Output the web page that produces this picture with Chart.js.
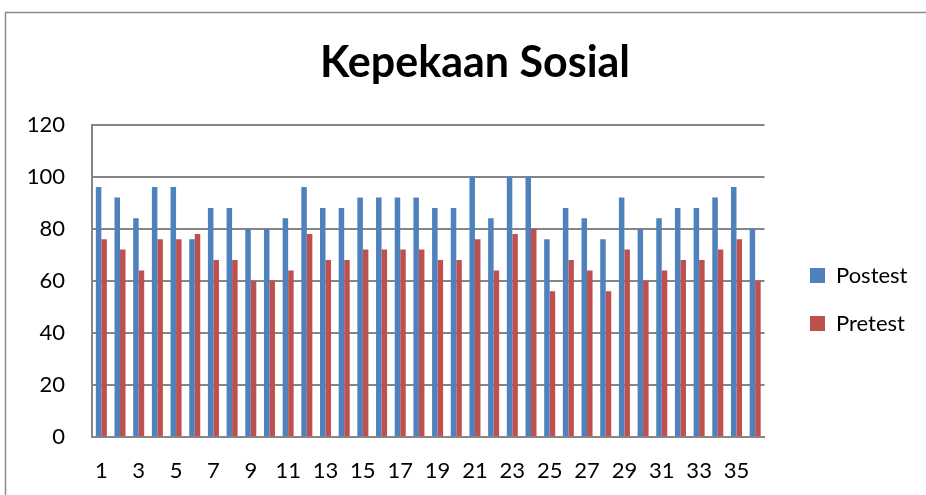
<!DOCTYPE html>
<html><head><meta charset="utf-8">
<script src="https://cdn.jsdelivr.net/npm/chart.js@4/dist/chart.umd.min.js"></script>
<style>html,body{margin:0;padding:0;background:#fff;} #wrap{width:926px;height:495px;position:relative}</style>
</head><body><div id="wrap"><canvas id="c" width="926" height="495"></canvas></div>
<script>
const categories = ['1','2','3','4','5','6','7','8','9','10','11','12','13','14','15','16','17','18',
  '19','20','21','22','23','24','25','26','27','28','29','30','31','32','33','34','35','36'];
const postest = [96,92,84,96,96,76,88,88,80,80,84,96,88,88,92,92,92,92,
  88,88,100,84,100,100,76,88,84,76,92,80,84,88,88,92,96,80];
const pretest = [76,72,64,76,76,78,68,68,60,60,64,78,68,68,72,72,72,72,
  68,68,76,64,78,80,56,68,64,56,72,60,64,68,68,72,76,60];
const yTicks = [0,20,40,60,80,100,120];
const seriesNames = ['Postest','Pretest'];
const titleText = 'Kepekaan Sosial';

Chart.defaults.font.family = 'Lato';
const GRID = '#868686';

const frame = {
  id: 'frame',
  beforeDraw(chart) {
    const ctx = chart.ctx;
    ctx.save();
    ctx.fillStyle = '#fff';
    ctx.fillRect(0, 0, chart.width, chart.height);
    ctx.strokeStyle = '#8c8c8c';
    ctx.lineWidth = 1.5;
    ctx.strokeRect(5.5, 12.5, chart.width + 10, chart.height + 10);
    ctx.restore();
  }
};
const place = {
  id: 'place',
  afterLayout(chart) {
    const lg = chart.legend;
    const dx = 784 - lg.left;
    lg.left += dx; lg.right += dx;
    lg.top = 238; lg.bottom = 361;
    const tb = chart.titleBlock;
    const tx = 475 - (tb.left + tb.right) / 2;
    tb.left += tx; tb.right += tx;
  }
};

new Chart(document.getElementById('c'), {
  type: 'bar',
  data: {
    labels: categories,
    datasets: [
      { label: seriesNames[0], data: postest, backgroundColor: '#4F81BD', borderWidth: 0,
        categoryPercentage: 0.59, barPercentage: 1 },
      { label: seriesNames[1], data: pretest, backgroundColor: '#C0504D', borderWidth: 0,
        categoryPercentage: 0.59, barPercentage: 1 }
    ]
  },
  options: {
    responsive: false,
    animation: false,
    devicePixelRatio: 1,
    layout: { padding: { top: 0, left: 0, right: 28, bottom: 0 } },
    plugins: {
      title: { display: true, text: titleText, color: '#000',
        font: { size: 43, weight: 'bold', family: 'Lato', lineHeight: 1.2 },
        padding: { top: 37, bottom: 36 } },
      legend: { position: 'right',
        labels: { color: '#000', font: { size: 22, family: 'Lato' }, boxWidth: 15, boxHeight: 15, padding: 26 } },
      tooltip: { enabled: false }
    },
    scales: {
      x: {
        grid: { display: false, drawTicks: false },
        border: { display: true, color: GRID, width: 2 },
        ticks: { color: '#000', font: { size: 22 }, autoSkip: false, maxRotation: 0, padding: 21,
          callback: (v, i) => (i % 2 === 0 ? categories[i] : '') },
        afterFit: s => { s.height = 58; }
      },
      y: {
        min: yTicks[0], max: yTicks[yTicks.length - 1],
        afterBuildTicks: s => { s.ticks = yTicks.map(v => ({ value: v })); },
        grid: { color: GRID, lineWidth: 2, drawTicks: false },
        border: { display: true, color: GRID, width: 2 },
        ticks: { color: '#000', font: { size: 22 }, padding: 27 },
        afterFit: s => { s.width = 92; }
      }
    }
  },
  plugins: [frame, place]
});
</script>
</body></html>
